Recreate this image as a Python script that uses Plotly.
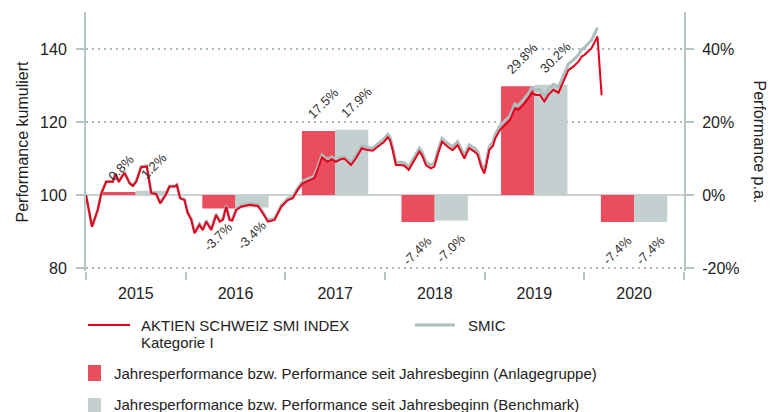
import plotly.graph_objects as go
import pandas as pd

# ---------------- data ----------------
dates = [
    "2015-01-01", "2015-01-23", "2015-02-13", "2015-02-26", "2015-03-16", "2015-04-09", "2015-04-19",
    "2015-05-01", "2015-05-22", "2015-06-10", "2015-06-22", "2015-07-04", "2015-07-22", "2015-08-12",
    "2015-08-28", "2015-09-15", "2015-09-30", "2015-10-20", "2015-11-03", "2015-11-22", "2015-11-30",
    "2015-12-12", "2015-12-28",
    "2016-01-09", "2016-01-22", "2016-02-03", "2016-02-21", "2016-03-04", "2016-03-17", "2016-04-04",
    "2016-04-22", "2016-05-05", "2016-05-17", "2016-05-29", "2016-06-10", "2016-06-20", "2016-07-05",
    "2016-07-23", "2016-08-23", "2016-09-22", "2016-10-10", "2016-10-29", "2016-11-22", "2016-12-17",
    "2017-01-10", "2017-01-28", "2017-02-15", "2017-03-05", "2017-03-23", "2017-04-17", "2017-04-29",
    "2017-05-15", "2017-06-05", "2017-06-20", "2017-07-05", "2017-07-23", "2017-08-05", "2017-08-17",
    "2017-08-29", "2017-09-16", "2017-10-08", "2017-10-29", "2017-11-17", "2017-12-05", "2017-12-29",
    "2018-01-11", "2018-01-19", "2018-01-29", "2018-02-10", "2018-02-28", "2018-03-13", "2018-03-29",
    "2018-04-18", "2018-05-07", "2018-05-16", "2018-05-31", "2018-06-18", "2018-07-01", "2018-07-13",
    "2018-07-29", "2018-08-19", "2018-09-06", "2018-09-24", "2018-10-06", "2018-10-19", "2018-10-27",
    "2018-11-06", "2018-11-25", "2018-12-07", "2018-12-19", "2018-12-31",
    "2019-01-08", "2019-01-18", "2019-02-01", "2019-02-08", "2019-02-26", "2019-03-17", "2019-04-04",
    "2019-04-22", "2019-05-05", "2019-05-23", "2019-06-11", "2019-06-23", "2019-07-07", "2019-07-23",
    "2019-08-08", "2019-08-23", "2019-09-10", "2019-09-29", "2019-10-17", "2019-11-04", "2019-11-23",
    "2019-12-11", "2019-12-23",
    "2020-01-03", "2020-01-15", "2020-01-28", "2020-02-19", "2020-03-05",
]

fund = [
    100.0, 91.3, 95.9, 100.4, 103.6, 103.6, 105.8,
    103.6, 106.1, 103.2, 102.5, 103.6, 107.6, 107.8,
    100.5, 100.3, 97.7, 100.0, 102.3, 102.3, 102.7,
    99.1, 98.6,
    95.0, 93.2, 89.5, 91.8, 90.4, 92.7, 90.4,
    94.5, 92.7, 93.2, 96.8, 93.2, 93.0, 95.9,
    96.8, 97.3, 97.0, 95.0, 92.7, 93.2, 96.8,
    98.6, 99.1, 101.4, 103.2, 103.8, 104.6, 106.9,
    110.3, 109.1, 109.8, 109.1, 109.8, 110.0, 109.1,
    108.2, 110.0, 112.8, 112.3, 112.1, 113.2, 114.6,
    115.8, 115.1, 112.3, 108.2, 108.2, 108.0, 106.9,
    109.6, 111.9, 111.0, 108.2, 107.3, 107.8, 111.0,
    114.6, 113.2, 112.3, 113.7, 111.9, 110.0, 111.4,
    112.8, 111.9, 111.0, 107.8, 105.9,
    108.5, 112.3, 113.5, 115.3, 117.8, 119.2, 120.5,
    123.7, 123.3, 124.7, 126.5, 128.0, 127.4, 127.4,
    125.6, 127.4, 128.8, 128.0, 131.0, 134.2, 135.2,
    136.5, 137.9,
    138.4, 139.3, 140.2, 143.4, 127.3,
]

bench = [
    100.0, 91.4, 96.0, 100.5, 103.7, 103.7, 105.9,
    103.7, 106.2, 103.3, 102.6, 103.8, 107.8, 108.0,
    100.7, 100.5, 97.9, 100.2, 102.5, 102.5, 102.9,
    99.3, 98.9,
    95.3, 93.5, 89.8, 92.1, 90.7, 93.0, 90.7,
    94.8, 93.0, 93.5, 97.1, 93.5, 93.3, 96.3,
    97.2, 97.7, 97.4, 95.4, 93.1, 93.6, 97.2,
    99.1, 99.6, 101.9, 103.7, 104.4, 105.2, 107.5,
    110.9, 109.7, 110.4, 109.7, 110.4, 110.6, 109.8,
    108.9, 110.7, 113.5, 113.0, 112.8, 114.0, 115.4,
    116.6, 115.9, 113.1, 109.0, 109.0, 108.8, 107.7,
    110.5, 112.8, 111.9, 109.1, 108.2, 108.7, 111.9,
    115.5, 114.1, 113.2, 114.6, 112.8, 110.9, 112.3,
    113.7, 112.8, 111.9, 108.7, 106.8,
    109.4, 113.3, 114.5, 116.4, 118.9, 120.4, 121.7,
    124.9, 124.5, 126.0, 127.8, 129.4, 128.8, 128.8,
    127.1, 128.9, 130.3, 129.6, 132.7, 135.9, 137.0,
    138.4, 139.8,
    140.4, 141.4, 142.4, 145.8, None,
]

years = [2015, 2016, 2017, 2018, 2019, 2020]
year_perf_fund = [0.8, -3.7, 17.5, -7.4, 29.8, -7.4]
year_perf_bench = [1.2, -3.4, 17.9, -7.0, 30.2, -7.4]

left_ticks = [80, 100, 120, 140]
right_ticks = [-20, 0, 20, 40]
right_ticktext = ["-20%", "0%", "20%", "40%"]

name_fund_1 = "AKTIEN SCHWEIZ SMI INDEX"
name_fund_2 = "Kategorie I"
name_bench = "SMIC"
name_bar_fund = "Jahresperformance bzw. Performance seit Jahresbeginn (Anlagegruppe)"
name_bar_bench = "Jahresperformance bzw. Performance seit Jahresbeginn (Benchmark)"

# ---------------- styles ----------------
RED_LINE = "#e2001a"
RED_BAR = "#e94d5e"
GREY_BAR = "#c4d0d0"
GREY_LINE = "#adbfbf"
AXIS = "#b3c5c5"
GRID = "#a9bcbc"
TEXT = "#222222"
FONT = "Liberation Sans"
BARGAP = 1 / 3

W, H = 776, 412
ML, MR, MT, MB = 86, 92, 12, 141
PW, PH = W - ML - MR, H - MT - MB


def px(xp):
    """pixel x -> paper x"""
    return (xp - ML) / PW


def py(yp):
    """pixel y -> paper y"""
    return (H - MB - yp) / PH


bar_x = [f"{y}-07-02" for y in years]

fig = go.Figure()

fig.add_bar(x=bar_x, y=year_perf_fund, name=name_bar_fund, marker=dict(color=RED_BAR, line_width=0),
            yaxis="y", hoverinfo="skip")
fig.add_bar(x=bar_x, y=year_perf_bench, name=name_bar_bench, marker=dict(color=GREY_BAR, line_width=0),
            yaxis="y", hoverinfo="skip")

fig.add_scatter(x=dates, y=bench, mode="lines", name=name_bench, line=dict(color=GREY_LINE, width=3),
                yaxis="y2", connectgaps=False)
fig.add_scatter(x=dates, y=fund, mode="lines", name=name_fund_1, line=dict(color=RED_LINE, width=2),
                yaxis="y2")

# rotated value labels at the bar ends
half = pd.Timedelta(days=(1 - BARGAP) * 365 / 2)
annotations = []
for i, yr in enumerate(years):
    mid = pd.Timestamp(bar_x[i])
    for v, left_edge, right_edge in (
        (year_perf_fund[i], mid - half, mid),
        (year_perf_bench[i], mid, mid + half),
    ):
        if v >= 0:
            ann = dict(x=left_edge, y=v, xanchor="left", yanchor="bottom", yshift=6, xshift=0)
        else:
            ann = dict(x=right_edge, y=v, xanchor="right", yanchor="top", yshift=-8, xshift=3)
        ann.update(text=f"{v:.1f}%", textangle=-45, showarrow=False, xref="x", yref="y",
                   font=dict(family=FONT, size=13, color="#333333"))
        annotations.append(ann)

# axis titles
annotations.append(dict(text="Performance kumuliert", textangle=-90, x=0, y=0.5, xref="paper", yref="paper",
                        xanchor="center", yanchor="middle", xshift=-64, showarrow=False,
                        font=dict(family=FONT, size=16, color=TEXT)))
annotations.append(dict(text="Performance p.a.", textangle=90, x=1, y=0.5, xref="paper", yref="paper",
                        xanchor="center", yanchor="middle", xshift=75, showarrow=False,
                        font=dict(family=FONT, size=16, color=TEXT)))

# legend (drawn by hand to reproduce the reference layout)
leg_font = dict(family=FONT, size=15, color=TEXT)
shapes = [
    dict(type="line", xref="paper", yref="paper", x0=px(88), x1=px(130), y0=py(325), y1=py(325),
         line=dict(color=RED_LINE, width=2)),
    dict(type="line", xref="paper", yref="paper", x0=px(415), x1=px(455), y0=py(325), y1=py(325),
         line=dict(color=GREY_LINE, width=3)),
    dict(type="rect", xref="paper", yref="paper", x0=px(88), x1=px(101), y0=py(365), y1=py(381),
         fillcolor=RED_BAR, line_width=0),
    dict(type="rect", xref="paper", yref="paper", x0=px(88), x1=px(101), y0=py(398), y1=py(414),
         fillcolor=GREY_BAR, line_width=0),
]
for txt, xp, yp in (
    (name_fund_1, 139, 325),
    (name_fund_2, 139, 342),
    (name_bench, 466, 325),
    (name_bar_fund, 112, 373),
    (name_bar_bench, 112, 405),
):
    annotations.append(dict(text=txt, x=px(xp), y=py(yp), xref="paper", yref="paper",
                            xanchor="left", yanchor="middle", showarrow=False, font=leg_font))

fig.update_layout(
    width=W, height=H,
    margin=dict(l=ML, r=MR, t=MT, b=MB, autoexpand=False),
    paper_bgcolor="white", plot_bgcolor="white",
    font=dict(family=FONT, size=16, color=TEXT),
    barmode="group", bargap=BARGAP, bargroupgap=0,
    showlegend=False,
    annotations=annotations,
    shapes=shapes,
    xaxis=dict(
        type="date", range=["2015-01-01", "2021-01-01"],
        tick0="2015-01-01", dtick="M12", tickformat="%Y", ticklabelmode="period",
        ticks="outside", ticklen=8, tickwidth=2, tickcolor=AXIS,
        showgrid=False, showline=False, zeroline=False,
        tickfont=dict(family=FONT, size=16, color=TEXT),
    ),
    yaxis=dict(
        side="right", range=[-20.8, 50.1],
        tickvals=right_ticks, ticktext=right_ticktext,
        showgrid=True, gridcolor=GRID, gridwidth=2, griddash="2px,4px",
        zeroline=True, zerolinecolor="#c9d3d3", zerolinewidth=2,
        showline=True, linecolor=AXIS, linewidth=2,
        ticks="outside", ticklen=8, tickwidth=2, tickcolor=AXIS,
        ticklabelstandoff=5,
        tickfont=dict(family=FONT, size=16, color=TEXT),
    ),
    yaxis2=dict(
        side="left", overlaying="y", anchor="x", range=[79.2, 150.1],
        tickvals=left_ticks,
        showgrid=False, zeroline=False,
        showline=True, linecolor=AXIS, linewidth=2,
        ticks="outside", ticklen=8, tickwidth=2, tickcolor=AXIS,
        ticklabelstandoff=6,
        tickfont=dict(family=FONT, size=16, color=TEXT),
    ),
)

fig.write_html(
    "out.html",
    config={"displayModeBar": False},
    post_script="document.body.style.margin='0';document.body.style.overflow='hidden';",
)
